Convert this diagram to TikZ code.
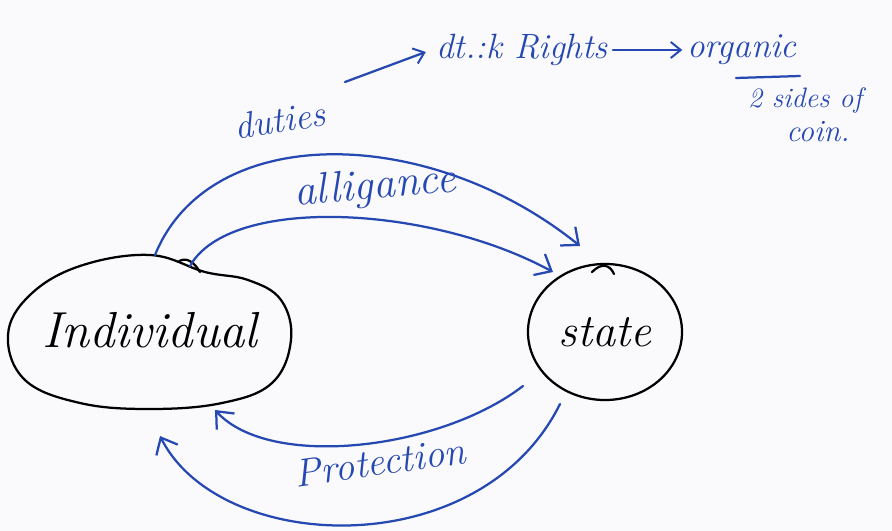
\documentclass[tikz,border=0pt]{standalone}
\usetikzlibrary{arrows.meta,shapes.geometric}
\definecolor{ink}{RGB}{38,72,178}
\definecolor{paper}{RGB}{250,250,252}
\begin{document}
\begin{tikzpicture}[x=0.025cm,y=-0.025cm,
  pen/.style={line width=1.6pt,line cap=round,line join=round},
  blueline/.style={pen,draw=ink,-{Straight Barb[length=3.5mm,width=6mm,line width=1.6pt]}},
  smallhead/.style={pen,draw=ink,-{Straight Barb[length=2.5mm,width=4mm,line width=1.4pt]}},
  lbl/.style={text=ink,font=\itshape},
  bubble/.style={draw=black,line width=1.6pt}]
% paper
\fill[paper] (0,0) rectangle (892,531);
\useasboundingbox (0,0) rectangle (892,531);

% the two parties
\node[font=\itshape\fontsize{36}{40}\selectfont] (ind) at (150,330) {Individual};
\draw[bubble] plot[smooth cycle,tension=0.65] coordinates {
  (150,255) (80,266) (30,295) (8,335) (25,380) (80,403) (150,409)
  (222,403) (272,383) (291,340) (281,300) (248,280) (205,272)};
\draw[pen] (178,262) .. controls (186,256) and (194,262) .. (200,272);
\node[ellipse,bubble,minimum width=3.85cm,minimum height=3.4cm,
  font=\itshape\fontsize{33}{36}\selectfont] (st) at (605,332) {state};
\draw[pen] (592,272) .. controls (602,262) and (610,265) .. (614,274);

% connector end points
\coordinate (dutyS) at (155,255);
\coordinate (dutyE) at (580,246);
\coordinate (allS) at (190,266);
\coordinate (allE) at (553,272);
\coordinate (pinS) at (523,386);
\coordinate (pinE) at (215,410);
\coordinate (poutS) at (560,404);
\coordinate (poutE) at (160,436);
\coordinate (noteS) at (345,82);

% individual to state
\draw[blueline] (dutyS) .. controls (210,120) and (430,125) .. (dutyE);
\draw[blueline] (allS) .. controls (230,195) and (430,205) .. (allE);
% state to individual
\draw[blueline] (pinS) .. controls (440,450) and (270,470) .. (pinE);
\draw[blueline] (poutS) .. controls (480,565) and (220,555) .. (poutE);

% labels on the connectors
\node[lbl,rotate=9,font=\itshape\fontsize{26}{28}\selectfont] (dutyL) at (280,120) {duties};
\node[lbl,rotate=5,font=\itshape\fontsize{31}{34}\selectfont] (allL) at (375,188) {alligance};
\node[lbl,rotate=8,font=\itshape\fontsize{28}{30}\selectfont] (protL) at (380,462) {Protection};

% notes at the top
\node[lbl,font=\itshape\fontsize{25}{28}\selectfont] (rights) at (522,50) {dt.:k Rights};
\node[lbl,font=\itshape\fontsize{25}{28}\selectfont] (organic) at (742,50) {organic};
\draw[pen,draw=ink] (736,78) -- (800,76);
\node[lbl,font=\itshape\fontsize{20}{22}\selectfont] (sides) at (805,100) {2 sides of};
\node[lbl,font=\itshape\fontsize{22}{24}\selectfont] (coin) at (818,132) {coin.};
\draw[smallhead,shorten >=4pt] (noteS) -- (rights.west);
\draw[smallhead] (rights.east) -- (organic.west);
\end{tikzpicture}
\end{document}
